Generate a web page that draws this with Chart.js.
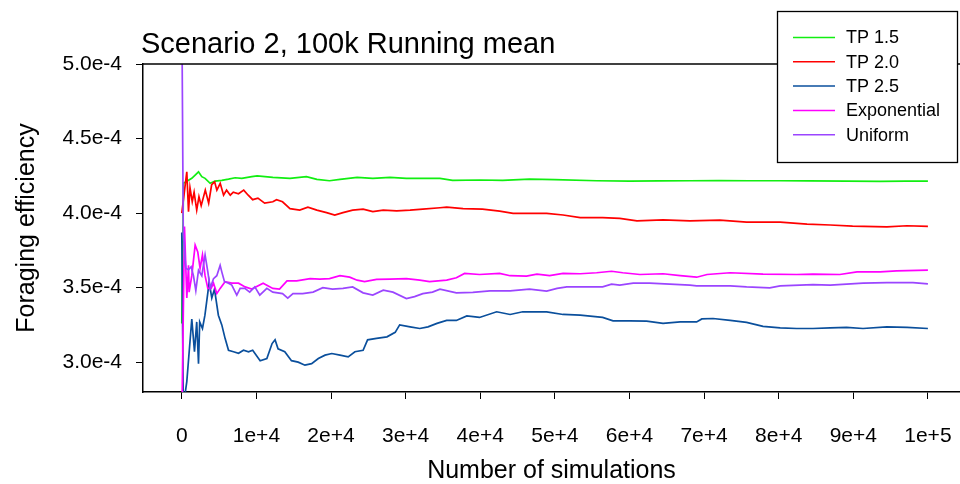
<!DOCTYPE html>
<html>
<head>
<meta charset="utf-8">
<title>Scenario 2, 100k Running mean</title>
<script src="https://cdn.jsdelivr.net/npm/chart.js@4.4.1/dist/chart.umd.min.js"></script>
<style>
  html, body { margin: 0; padding: 0; background: #fff; overflow: hidden; }
  canvas { display: block; }
</style>
</head>
<body>
<canvas id="chart" width="960" height="484"></canvas>
<script>
const FONT = '"Liberation Sans", Arial, sans-serif';

const chartTitle = 'Scenario 2, 100k Running mean';
const xTitle = 'Number of simulations';
const yTitle = 'Foraging efficiency';

const xTicks = [0, 10000, 20000, 30000, 40000, 50000, 60000, 70000, 80000, 90000, 100000];
const xTickLabels = ['0', '1e+4', '2e+4', '3e+4', '4e+4', '5e+4', '6e+4', '7e+4', '8e+4', '9e+4', '1e+5'];
const yTicks = [3.0e-4, 3.5e-4, 4.0e-4, 4.5e-4, 5.0e-4];
const yTickLabels = ['3.0e-4', '3.5e-4', '4.0e-4', '4.5e-4', '5.0e-4'];

const seriesNames = ['TP 1.5', 'TP 2.0', 'TP 2.5', 'Exponential', 'Uniform'];
const seriesColors = ['#11ee11', '#ff0000', '#0a4f9c', '#ff00ff', '#9b45ff'];

// TP 1.5
const tp15X = [0, 230, 900, 1340, 1790, 2240, 2680, 3120, 3800, 4470, 5360, 6260, 7150, 8040, 9380,
  10100, 12200, 14500, 16700, 18100, 19800, 21200, 23500, 25600, 27900, 30100, 32300, 34600, 36300,
  40000, 43000, 46600, 50000, 55600, 60000, 64000, 68100, 72000, 76000, 80200, 84000, 89100, 93600, 97000, 100000];
const tp15Y = [3.26e-4, 4.20e-4, 4.22e-4, 4.233e-4, 4.255e-4, 4.277e-4, 4.244e-4, 4.233e-4, 4.20e-4, 4.215e-4,
  4.22e-4, 4.228e-4, 4.237e-4, 4.233e-4, 4.244e-4, 4.25e-4, 4.24e-4, 4.233e-4, 4.244e-4, 4.226e-4,
  4.217e-4, 4.226e-4, 4.24e-4, 4.233e-4, 4.24e-4, 4.233e-4, 4.233e-4, 4.233e-4, 4.22e-4, 4.222e-4,
  4.22e-4, 4.228e-4, 4.225e-4, 4.217e-4, 4.215e-4, 4.216e-4, 4.217e-4, 4.218e-4, 4.217e-4, 4.217e-4,
  4.216e-4, 4.215e-4, 4.213e-4, 4.215e-4, 4.215e-4];

// TP 2.0
const tp20X = [0, 670, 900, 1100, 1400, 1650, 2000, 2300, 2600, 3150, 3600, 4000, 4400, 4700, 5150, 5600,
  6000, 6500, 6900, 7600, 8300, 8900, 9500, 10200, 11100, 12200, 12700, 13500, 14500, 15800, 16900,
  18100, 19400, 20500, 21600, 22900, 24300, 25600, 27000, 28800, 30600, 32300, 34600, 35500, 37700,
  40300, 42600, 44400, 46600, 48900, 51100, 53400, 56400, 58700, 61000, 64500, 68100, 72100, 75700,
  80200, 83800, 86900, 89900, 94500, 97200, 100000];
const tp20Y = [4.0e-4, 4.277e-4, 4.01e-4, 4.17e-4, 4.076e-4, 4.14e-4, 4.02e-4, 4.11e-4, 4.05e-4, 4.154e-4,
  4.067e-4, 4.19e-4, 4.21e-4, 4.154e-4, 4.2e-4, 4.12e-4, 4.154e-4, 4.12e-4, 4.14e-4, 4.13e-4,
  4.154e-4, 4.12e-4, 4.09e-4, 4.10e-4, 4.067e-4, 4.076e-4, 4.09e-4, 4.076e-4, 4.03e-4, 4.02e-4,
  4.04e-4, 4.02e-4, 4.003e-4, 3.987e-4, 4.003e-4, 4.02e-4, 4.027e-4, 4.01e-4, 4.02e-4, 4.015e-4,
  4.02e-4, 4.027e-4, 4.036e-4, 4.04e-4, 4.03e-4, 4.027e-4, 4.013e-4, 3.998e-4, 3.998e-4, 3.998e-4,
  3.987e-4, 3.97e-4, 3.97e-4, 3.964e-4, 3.948e-4, 3.955e-4, 3.948e-4, 3.953e-4, 3.94e-4, 3.94e-4,
  3.926e-4, 3.92e-4, 3.913e-4, 3.908e-4, 3.915e-4, 3.911e-4];

// TP 2.5
const tp25X = [0, 200, 670, 1340, 1700, 2000, 2240, 2400, 2770, 3100, 3500, 3660, 4020, 4380, 4900, 5360,
  5800, 6260, 6930, 7600, 8270, 8940, 9500, 10500, 11400, 12100, 12500, 12900, 13800, 14700, 15600,
  16500, 17400, 18300, 19200, 20100, 21200, 22300, 23200, 24300, 24900, 26100, 27500, 28600, 29200,
  30600, 31900, 33000, 34200, 35500, 36800, 38200, 39900, 42200, 44000, 45700, 48900, 51100, 53400,
  56400, 57800, 60000, 62300, 64500, 66800, 69000, 69700, 71200, 73500, 75700, 77900, 80200, 82400,
  84600, 86900, 89100, 91300, 94500, 97200, 100000];
const tp25Y = [3.87e-4, 2.7e-4, 2.87e-4, 3.29e-4, 3.07e-4, 3.27e-4, 2.99e-4, 3.27e-4, 3.226e-4, 3.315e-4,
  3.47e-4, 3.54e-4, 3.43e-4, 3.49e-4, 3.315e-4, 3.25e-4, 3.16e-4, 3.08e-4, 3.07e-4, 3.06e-4,
  3.08e-4, 3.07e-4, 3.08e-4, 3.01e-4, 3.025e-4, 3.125e-4, 3.15e-4, 3.09e-4, 3.07e-4, 3.01e-4,
  3.0e-4, 2.98e-4, 2.99e-4, 3.025e-4, 3.047e-4, 3.058e-4, 3.047e-4, 3.036e-4, 3.07e-4, 3.08e-4,
  3.15e-4, 3.16e-4, 3.17e-4, 3.2e-4, 3.25e-4, 3.237e-4, 3.226e-4, 3.237e-4, 3.26e-4, 3.28e-4,
  3.28e-4, 3.31e-4, 3.30e-4, 3.338e-4, 3.32e-4, 3.338e-4, 3.338e-4, 3.32e-4, 3.315e-4, 3.30e-4,
  3.277e-4, 3.277e-4, 3.275e-4, 3.26e-4, 3.27e-4, 3.27e-4, 3.29e-4, 3.293e-4, 3.28e-4, 3.267e-4,
  3.24e-4, 3.23e-4, 3.226e-4, 3.226e-4, 3.23e-4, 3.233e-4, 3.226e-4, 3.237e-4, 3.233e-4, 3.226e-4];

// Exponential
const expX = [0, 360, 670, 900, 980, 1340, 1790, 2140, 2450, 2770, 3120, 3490, 3930, 4250, 4690, 5140,
  5800, 6700, 7600, 8490, 9380, 10900, 12200, 13100, 14100, 15400, 17200, 18500, 19800, 21200, 22500,
  23500, 24500, 26100, 27900, 30100, 31900, 33200, 35500, 36800, 37900, 39900, 42600, 44000, 46200,
  47600, 49300, 51100, 53400, 55600, 57600, 59100, 61400, 64500, 66800, 69000, 70400, 73500, 77900,
  82400, 84600, 88200, 90500, 93600, 95800, 100000];
const expY = [2.6e-4, 3.91e-4, 3.43e-4, 3.65e-4, 3.47e-4, 3.58e-4, 3.785e-4, 3.74e-4, 3.63e-4, 3.72e-4,
  3.58e-4, 3.495e-4, 3.495e-4, 3.53e-4, 3.46e-4, 3.495e-4, 3.54e-4, 3.53e-4, 3.53e-4, 3.505e-4,
  3.49e-4, 3.53e-4, 3.495e-4, 3.49e-4, 3.545e-4, 3.545e-4, 3.56e-4, 3.557e-4, 3.56e-4, 3.58e-4,
  3.57e-4, 3.55e-4, 3.54e-4, 3.555e-4, 3.557e-4, 3.56e-4, 3.55e-4, 3.54e-4, 3.55e-4, 3.566e-4,
  3.595e-4, 3.588e-4, 3.595e-4, 3.58e-4, 3.577e-4, 3.59e-4, 3.58e-4, 3.595e-4, 3.593e-4, 3.60e-4,
  3.61e-4, 3.60e-4, 3.588e-4, 3.593e-4, 3.58e-4, 3.57e-4, 3.588e-4, 3.60e-4, 3.59e-4, 3.588e-4,
  3.59e-4, 3.588e-4, 3.606e-4, 3.606e-4, 3.613e-4, 3.617e-4];

// Uniform
const unifX = [0, 200, 540, 900, 1250, 1560, 1880, 2240, 2680, 3120, 3490, 3800, 4250, 4690, 5140, 5360,
  5720, 6260, 6700, 7370, 7820, 8450, 9100, 9790, 10450, 11400, 12200, 13500, 14200, 14900, 16200,
  17600, 18900, 20200, 21600, 22900, 24300, 25600, 27000, 28300, 30100, 31200, 32300, 33600, 34600,
  36800, 39000, 41300, 44000, 46600, 48900, 50300, 51600, 53800, 56400, 57600, 58700, 60500, 62700,
  65400, 68100, 69000, 73500, 75700, 78800, 80200, 84600, 86900, 89100, 91300, 94500, 98000, 100000];
const unifY = [5.4e-4, 3.86e-4, 3.63e-4, 3.62e-4, 3.64e-4, 3.58e-4, 3.48e-4, 3.617e-4, 3.58e-4, 3.72e-4,
  3.606e-4, 3.495e-4, 3.56e-4, 3.58e-4, 3.65e-4, 3.606e-4, 3.54e-4, 3.53e-4, 3.517e-4, 3.45e-4,
  3.495e-4, 3.495e-4, 3.47e-4, 3.505e-4, 3.45e-4, 3.495e-4, 3.47e-4, 3.46e-4, 3.43e-4, 3.46e-4,
  3.46e-4, 3.47e-4, 3.5e-4, 3.49e-4, 3.495e-4, 3.505e-4, 3.465e-4, 3.45e-4, 3.483e-4, 3.47e-4,
  3.427e-4, 3.44e-4, 3.46e-4, 3.47e-4, 3.49e-4, 3.465e-4, 3.468e-4, 3.478e-4, 3.478e-4, 3.49e-4,
  3.477e-4, 3.495e-4, 3.505e-4, 3.505e-4, 3.505e-4, 3.523e-4, 3.517e-4, 3.53e-4, 3.53e-4, 3.523e-4,
  3.517e-4, 3.512e-4, 3.512e-4, 3.505e-4, 3.499e-4, 3.512e-4, 3.52e-4, 3.517e-4, 3.523e-4, 3.53e-4,
  3.533e-4, 3.533e-4, 3.525e-4];

const seriesX = [tp15X, tp20X, tp25X, expX, unifX];
const seriesY = [tp15Y, tp20Y, tp25Y, expY, unifY];

function toPoints(xs, ys) {
  return xs.map((x, i) => ({ x: x, y: ys[i] }));
}

// title, top frame line and boxed legend, drawn like R's plot()/legend()
const decorations = {
  id: 'decorations',
  afterDraw(chart) {
    const { ctx, chartArea } = chart;
    ctx.save();
    ctx.strokeStyle = '#000';
    ctx.lineWidth = 1.5;
    ctx.beginPath();
    ctx.moveTo(chartArea.left, chartArea.top);
    ctx.lineTo(chart.width, chartArea.top);
    ctx.stroke();

    ctx.fillStyle = '#000';
    ctx.font = '29px ' + FONT;
    ctx.textAlign = 'left';
    ctx.textBaseline = 'alphabetic';
    ctx.fillText(chartTitle, 141, 53);

    // legend box
    ctx.fillStyle = '#fff';
    ctx.fillRect(777, 11, 180, 151);
    ctx.lineWidth = 1.3;
    ctx.strokeRect(777.5, 11.5, 180, 151);
    ctx.font = '18px ' + FONT;
    ctx.textBaseline = 'middle';
    chart.data.datasets.forEach((ds, i) => {
      const y = 37.5 + i * 24.3;
      ctx.strokeStyle = ds.borderColor;
      ctx.lineWidth = 1.5;
      ctx.beginPath();
      ctx.moveTo(793, y);
      ctx.lineTo(835, y);
      ctx.stroke();
      ctx.fillStyle = '#000';
      ctx.fillText(ds.label, 846, y + 1);
    });
    ctx.restore();
  }
};

Chart.defaults.font.family = FONT;
Chart.defaults.color = '#000';

new Chart(document.getElementById('chart'), {
  type: 'line',
  data: {
    datasets: seriesNames.map((name, i) => ({
      label: name,
      data: toPoints(seriesX[i], seriesY[i]),
      borderColor: seriesColors[i],
      backgroundColor: seriesColors[i],
      borderWidth: 1.7,
      pointRadius: 0,
      tension: 0,
      fill: false,
      order: seriesNames.length - i
    }))
  },
  options: {
    responsive: false,
    animation: false,
    layout: { padding: { top: 64, left: 0, right: 0, bottom: 0 } },
    plugins: {
      legend: { display: false },
      title: { display: false },
      tooltip: { enabled: false }
    },
    scales: {
      x: {
        type: 'linear',
        min: -5200,
        max: 104300,
        afterFit: s => {
          s.height = 92;
          s.paddingLeft = 0;
          s.paddingRight = 0;
        },
        afterBuildTicks: s => { s.ticks = xTicks.map(v => ({ value: v })); },
        ticks: {
          callback: (v, i) => xTickLabels[i],
          autoSkip: false,
          maxRotation: 0,
          padding: 25,
          font: { size: 21 }
        },
        grid: { display: true, drawOnChartArea: false, drawTicks: true, tickLength: 7, color: '#000', lineWidth: 1 },
        border: { display: true, color: '#000', width: 1.5 },
        title: { display: true, text: xTitle, font: { size: 25 }, padding: { top: 0, bottom: -2 } }
      },
      y: {
        type: 'linear',
        min: 2.8e-4,
        max: 5.0e-4,
        afterFit: s => {
          s.width = 143;
          s.paddingTop = 0;
          s.paddingBottom = 0;
        },
        afterBuildTicks: s => { s.ticks = yTicks.map(v => ({ value: v })); },
        ticks: {
          callback: (v, i) => yTickLabels[i],
          autoSkip: false,
          padding: 14,
          font: { size: 21 }
        },
        grid: { display: true, drawOnChartArea: false, drawTicks: true, tickLength: 7, color: '#000', lineWidth: 1 },
        border: { display: true, color: '#000', width: 1.5 },
        title: { display: true, text: yTitle, font: { size: 25 }, padding: { top: 12, bottom: 0 } }
      }
    }
  },
  plugins: [decorations]
});
</script>
</body>
</html>
